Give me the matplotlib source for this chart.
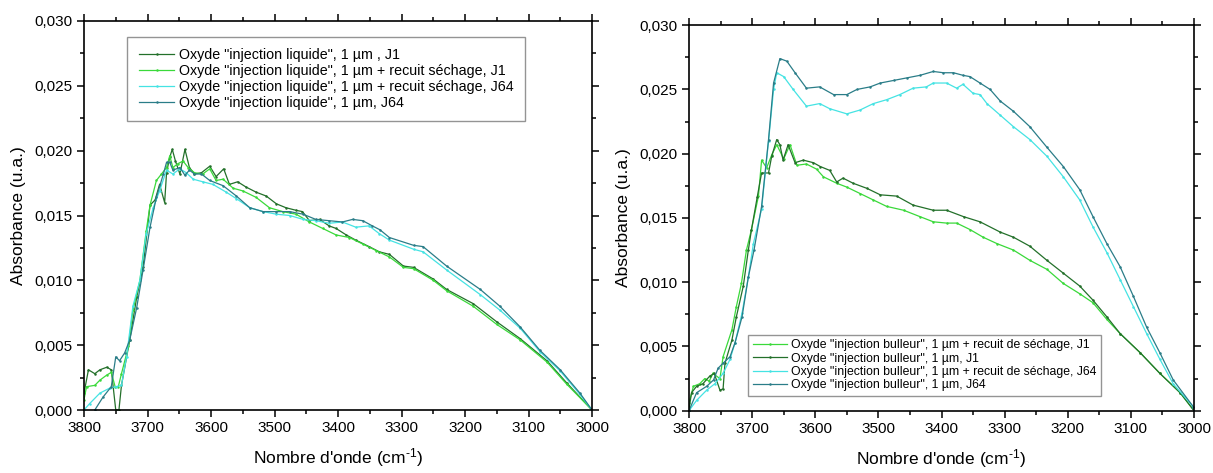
import numpy as np
import matplotlib
matplotlib.use("Agg")
import matplotlib.pyplot as plt
from matplotlib.ticker import MultipleLocator, FuncFormatter

plt.rcParams['font.family'] = ['Liberation Sans', 'DejaVu Sans']
plt.rcParams['mathtext.fontset'] = 'custom'
plt.rcParams['mathtext.rm'] = 'Liberation Sans'
plt.rcParams['mathtext.it'] = 'Liberation Sans'

# ---------------- Left panel: "injection liquide" ----------------
liq_j1_wn = [3800, 3793, 3783, 3775, 3764, 3757, 3750, 3745, 3741, 3728, 3717, 3707, 3696, 3688,
             3681, 3673, 3670, 3665, 3661, 3656, 3649, 3641, 3634, 3626, 3615, 3602, 3592, 3580,
             3571, 3558, 3545, 3529, 3513, 3497, 3482, 3466, 3456, 3445, 3429, 3414, 3403, 3387,
             3372, 3351, 3335, 3319, 3297, 3281, 3250, 3229, 3187, 3150, 3113, 3071, 3040, 3000]
liq_j1_abs = [0.0013, 0.0031, 0.0028, 0.0031, 0.0033, 0.0031, 0.0000, 0.0000, 0.0019, 0.0054,
              0.0087, 0.0110, 0.0158, 0.0162, 0.0174, 0.0160, 0.0183, 0.0195, 0.0201, 0.0192,
              0.0182, 0.0201, 0.0187, 0.0182, 0.0183, 0.0188, 0.0180, 0.0186, 0.0174, 0.0176,
              0.0172, 0.0168, 0.0165, 0.0159, 0.0156, 0.0154, 0.0153, 0.0146, 0.0147, 0.0142,
              0.0140, 0.0135, 0.0131, 0.0126, 0.0122, 0.0120, 0.0111, 0.0110, 0.0101, 0.0093,
              0.0082, 0.0068, 0.0055, 0.0038, 0.0021, 0.0000]

liq_rec_j1_wn = [3800, 3796, 3783, 3775, 3764, 3757, 3751, 3746, 3741, 3730, 3723, 3712, 3702,
                 3696, 3686, 3678, 3670, 3665, 3660, 3652, 3644, 3636, 3626, 3613, 3602, 3592,
                 3581, 3565, 3550, 3529, 3508, 3487, 3466, 3445, 3424, 3403, 3382, 3361, 3340,
                 3319, 3297, 3281, 3250, 3229, 3187, 3150, 3113, 3071, 3040, 3000]
liq_rec_j1_abs = [0.0008, 0.0018, 0.0019, 0.0023, 0.0027, 0.0029, 0.0018, 0.0018, 0.0028,
                  0.0049, 0.0077, 0.0100, 0.0138, 0.0158, 0.0177, 0.0182, 0.0187, 0.0196,
                  0.0187, 0.0190, 0.0192, 0.0187, 0.0183, 0.0182, 0.0186, 0.0177, 0.0178,
                  0.0171, 0.0169, 0.0164, 0.0156, 0.0153, 0.0151, 0.0145, 0.0140, 0.0135,
                  0.0133, 0.0128, 0.0123, 0.0118, 0.0110, 0.0109, 0.0100, 0.0092, 0.0080,
                  0.0066, 0.0054, 0.0037, 0.0020, 0.0000]

liq_rec_j64_wn = [3800, 3791, 3775, 3759, 3750, 3741, 3733, 3723, 3712, 3702, 3691, 3681, 3670,
                  3660, 3649, 3639, 3628, 3613, 3597, 3576, 3560, 3539, 3518, 3497, 3476, 3455,
                  3435, 3414, 3393, 3372, 3351, 3335, 3319, 3281, 3266, 3229, 3176, 3145, 3113,
                  3082, 3050, 3019, 3000]
liq_rec_j64_abs = [0.0000, 0.0005, 0.0013, 0.0017, 0.0018, 0.0019, 0.0041, 0.0080, 0.0100,
                   0.0136, 0.0156, 0.0169, 0.0185, 0.0182, 0.0186, 0.0183, 0.0178, 0.0176,
                   0.0174, 0.0168, 0.0163, 0.0156, 0.0153, 0.0151, 0.0150, 0.0147, 0.0146,
                   0.0144, 0.0145, 0.0141, 0.0142, 0.0136, 0.0131, 0.0124, 0.0122, 0.0108,
                   0.0089, 0.0077, 0.0063, 0.0045, 0.0030, 0.0012, 0.0000]

liq_j64_wn = [3783, 3770, 3757, 3750, 3744, 3736, 3728, 3717, 3707, 3696, 3686, 3675, 3670,
              3665, 3660, 3649, 3641, 3634, 3626, 3615, 3602, 3581, 3560, 3539, 3518, 3497,
              3476, 3455, 3435, 3414, 3393, 3377, 3361, 3346, 3334, 3319, 3281, 3266, 3229,
              3176, 3145, 3113, 3082, 3050, 3019, 3000]
liq_j64_abs = [0.0000, 0.0010, 0.0018, 0.0041, 0.0038, 0.0044, 0.0054, 0.0079, 0.0108, 0.0141,
               0.0164, 0.0182, 0.0191, 0.0191, 0.0185, 0.0187, 0.0181, 0.0185, 0.0182, 0.0182,
               0.0177, 0.0173, 0.0165, 0.0156, 0.0153, 0.0153, 0.0153, 0.0151, 0.0147, 0.0146,
               0.0145, 0.0147, 0.0146, 0.0142, 0.0139, 0.0133, 0.0127, 0.0126, 0.0111, 0.0093,
               0.0080, 0.0064, 0.0046, 0.0031, 0.0013, 0.0000]

# ---------------- Right panel: "injection bulleur" ----------------
bul_rec_j1_wn = [3800, 3793, 3783, 3775, 3768, 3762, 3751, 3746, 3732, 3725, 3717, 3709, 3701,
                 3690, 3685, 3677, 3669, 3661, 3650, 3640, 3629, 3614, 3598, 3587, 3566, 3550,
                 3529, 3508, 3487, 3460, 3434, 3413, 3392, 3376, 3355, 3334, 3312, 3286, 3260,
                 3233, 3207, 3181, 3160, 3138, 3117, 3085, 3054, 3022, 3000]
bul_rec_j1_abs = [0.0006, 0.0019, 0.0021, 0.0025, 0.0023, 0.0029, 0.0025, 0.0042, 0.0063,
                  0.0081, 0.0099, 0.0125, 0.0141, 0.0167, 0.0195, 0.0189, 0.0199, 0.0207,
                  0.0196, 0.0207, 0.0191, 0.0192, 0.0188, 0.0182, 0.0177, 0.0174, 0.0169,
                  0.0164, 0.0159, 0.0156, 0.0151, 0.0147, 0.0146, 0.0146, 0.0141, 0.0135,
                  0.0130, 0.0125, 0.0117, 0.0110, 0.0099, 0.0091, 0.0084, 0.0071, 0.0060,
                  0.0045, 0.0029, 0.0014, 0.0000]

bul_j1_wn = [3800, 3796, 3788, 3778, 3767, 3760, 3751, 3746, 3743, 3732, 3725, 3714, 3706, 3701,
             3692, 3685, 3674, 3669, 3661, 3656, 3651, 3643, 3632, 3619, 3603, 3592, 3577, 3566,
             3556, 3540, 3518, 3497, 3471, 3445, 3413, 3392, 3365, 3339, 3307, 3286, 3260, 3233,
             3207, 3181, 3160, 3138, 3117, 3085, 3054, 3022, 3000]
bul_j1_abs = [0.0001, 0.0014, 0.0019, 0.0021, 0.0027, 0.0029, 0.0016, 0.0017, 0.0037, 0.0055,
              0.0073, 0.0097, 0.0125, 0.0141, 0.0166, 0.0185, 0.0185, 0.0198, 0.0211, 0.0207,
              0.0195, 0.0207, 0.0193, 0.0195, 0.0193, 0.0190, 0.0187, 0.0178, 0.0181, 0.0177,
              0.0173, 0.0168, 0.0167, 0.0160, 0.0156, 0.0156, 0.0151, 0.0147, 0.0139, 0.0135,
              0.0128, 0.0117, 0.0107, 0.0097, 0.0086, 0.0073, 0.0060, 0.0045, 0.0029, 0.0014,
              0.0000]

bul_rec_j64_wn = [3800, 3788, 3772, 3759, 3746, 3735, 3727, 3716, 3706, 3698, 3685, 3674, 3666,
                  3661, 3650, 3635, 3614, 3593, 3577, 3550, 3529, 3508, 3487, 3466, 3445, 3424,
                  3413, 3392, 3376, 3366, 3350, 3339, 3328, 3307, 3286, 3260, 3233, 3207, 3181,
                  3160, 3138, 3117, 3096, 3075, 3054, 3033, 3001, 3000]
bul_rec_j64_abs = [0.0000, 0.0008, 0.0016, 0.0021, 0.0029, 0.0040, 0.0053, 0.0076, 0.0104,
                   0.0130, 0.0157, 0.0210, 0.0250, 0.0263, 0.0260, 0.0250, 0.0237, 0.0239,
                   0.0235, 0.0231, 0.0234, 0.0239, 0.0242, 0.0246, 0.0251, 0.0252, 0.0255,
                   0.0255, 0.0251, 0.0254, 0.0247, 0.0246, 0.0239, 0.0230, 0.0221, 0.0211,
                   0.0198, 0.0182, 0.0164, 0.0143, 0.0123, 0.0102, 0.0081, 0.0060, 0.0040,
                   0.0021, 0.0003, 0.0000]

bul_j64_wn = [3800, 3788, 3772, 3761, 3754, 3746, 3735, 3727, 3716, 3706, 3697, 3685, 3674, 3666,
              3656, 3645, 3632, 3614, 3593, 3571, 3550, 3534, 3513, 3497, 3476, 3455, 3434, 3413,
              3397, 3381, 3366, 3355, 3339, 3323, 3307, 3286, 3260, 3233, 3207, 3181, 3160, 3138,
              3117, 3096, 3075, 3054, 3033, 3001, 3000]
bul_j64_abs = [0.0000, 0.0014, 0.0019, 0.0024, 0.0033, 0.0037, 0.0042, 0.0053, 0.0073, 0.0104,
               0.0125, 0.0159, 0.0211, 0.0255, 0.0274, 0.0272, 0.0263, 0.0251, 0.0252, 0.0246,
               0.0246, 0.0250, 0.0252, 0.0255, 0.0257, 0.0259, 0.0261, 0.0264, 0.0263, 0.0263,
               0.0261, 0.0260, 0.0255, 0.0250, 0.0241, 0.0233, 0.0221, 0.0205, 0.0190, 0.0172,
               0.0151, 0.0130, 0.0112, 0.0089, 0.0065, 0.0045, 0.0024, 0.0003, 0.0000]

labels_left = ['Oxyde "injection liquide", 1 µm , J1',
               'Oxyde "injection liquide", 1 µm + recuit séchage, J1',
               'Oxyde "injection liquide", 1 µm + recuit séchage, J64',
               'Oxyde "injection liquide", 1 µm, J64']
labels_right = ['Oxyde "injection bulleur", 1 µm + recuit de séchage, J1',
                'Oxyde "injection bulleur", 1 µm, J1',
                'Oxyde "injection bulleur", 1 µm + recuit de séchage, J64',
                'Oxyde "injection bulleur", 1 µm, J64']

C_DGREEN = '#23702a'
C_LGREEN = '#3ad93a'
C_CYAN = '#45e3e3'
C_TEAL = '#2a7d88'

W, H = 1213, 473
fig = plt.figure(figsize=(W / 100, H / 100), dpi=100)
ax1 = fig.add_axes([84 / W, 1 - 410 / H, 508 / W, 389 / H])
ax2 = fig.add_axes([689 / W, 1 - 410.7 / H, 505 / W, 385.5 / H])

style = dict(lw=0.9, marker='o', ms=1.8, mew=0)

ax1.plot(liq_j1_wn, liq_j1_abs, color=C_DGREEN, label=labels_left[0], **style)
ax1.plot(liq_rec_j1_wn, liq_rec_j1_abs, color=C_LGREEN, label=labels_left[1], **style)
ax1.plot(liq_rec_j64_wn, liq_rec_j64_abs, color=C_CYAN, label=labels_left[2], **style)
ax1.plot(liq_j64_wn, liq_j64_abs, color=C_TEAL, label=labels_left[3], **style)

ax2.plot(bul_rec_j1_wn, bul_rec_j1_abs, color=C_LGREEN, label=labels_right[0], **style)
ax2.plot(bul_j1_wn, bul_j1_abs, color=C_DGREEN, label=labels_right[1], **style)
ax2.plot(bul_rec_j64_wn, bul_rec_j64_abs, color=C_CYAN, label=labels_right[2], **style)
ax2.plot(bul_j64_wn, bul_j64_abs, color=C_TEAL, label=labels_right[3], **style)

fmt = FuncFormatter(lambda v, p: f"{v:.3f}".replace('.', ','))
for ax in (ax1, ax2):
    ax.set_xlim(3800, 3000)
    ax.set_ylim(0, 0.030)
    ax.xaxis.set_major_locator(MultipleLocator(100))
    ax.xaxis.set_minor_locator(MultipleLocator(50))
    ax.yaxis.set_major_locator(MultipleLocator(0.005))
    ax.yaxis.set_minor_locator(MultipleLocator(0.0025))
    ax.yaxis.set_major_formatter(fmt)
    ax.tick_params(which='both', direction='out', top=True, right=True, labelsize=11,
                   width=1.1, colors='black')
    ax.tick_params(which='major', length=5, pad=3)
    ax.tick_params(which='minor', length=3)
    for s in ax.spines.values():
        s.set_linewidth(1.2)
    ax.set_xlabel("Nombre d'onde (cm$^{\\text{-}1}$)", fontsize=12.5, labelpad=8)
    ax.set_ylabel("Absorbance (u.a.)", fontsize=12.5, labelpad=6)

leg1 = ax1.legend(loc='upper left', bbox_to_anchor=(0.085, 0.96), borderaxespad=0,
                  fontsize=10.3, frameon=True, fancybox=False, edgecolor='#7a7a7a',
                  handlelength=2.5, handletextpad=0.3, labelspacing=0.14, numpoints=1,
                  borderpad=0.8)
leg1.get_frame().set_linewidth(1.0)

leg2 = ax2.legend(loc='lower left', bbox_to_anchor=(0.117, 0.038), borderaxespad=0,
                  fontsize=8.8, frameon=True, fancybox=False, edgecolor='#7a7a7a',
                  handlelength=2.8, handletextpad=0.3, labelspacing=0.1, numpoints=1,
                  borderpad=0.4)
leg2.get_frame().set_linewidth(1.0)

fig.savefig('out.png', dpi=100)
